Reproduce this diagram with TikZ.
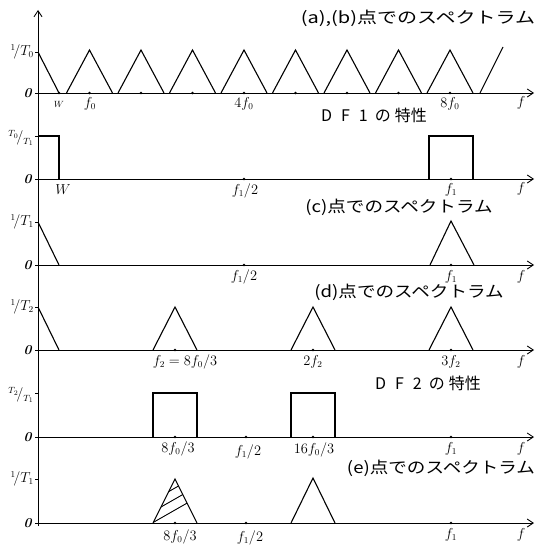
\documentclass[tikz,border=0pt]{standalone}
\usepackage{fontspec}
\newfontfamily\jp{Noto Sans CJK JP}
\usetikzlibrary{arrows.meta}
\newcommand\ttlbox[2][1.16]{\scalebox{#1}[1]{#2}}
\begin{document}
\begin{tikzpicture}[x=1pt,y=-1pt,
  axisline/.style={line width=0.9pt,-{Straight Barb[length=6pt,width=8pt,line width=0.9pt]}},
  curve/.style={line width=1.1pt,line join=miter},
  lab/.style={font=\fontsize{13.5}{13.5}\selectfont},
  ylab/.style={font=\fontsize{13.5}{13.5}\selectfont,anchor=east,inner sep=1pt},
  ttl/.style={font=\jp\fontsize{16}{16}\selectfont},
  dot/.style={circle,fill=black,inner sep=0pt,minimum size=2.6pt}]
\useasboundingbox (0,0) rectangle (556,551);
% vertical axis
\coordinate (ybot) at (38,526);
\coordinate (ytop) at (38,10);
\draw[axisline] (ybot) -- (ytop);
% horizontal axes
\foreach \n/\yy in {a/93,b/179,c/265,d/350,e/437,g/523}{
  \coordinate (\n0) at (38,\yy);
  \coordinate (\n1) at (534,\yy);
  \draw[axisline] (\n0) -- (\n1);
  \draw[line width=0.8pt] (35,\yy) -- (38,\yy);
  \node[lab] (zero\n) at (28,\yy) {\textbf{\textit{0}}};
}
% ---------- panel 1
\draw[line width=0.8pt] (35,52) -- (38,52);
\node[ylab] (ya) at (35,52) {$^{1}\!/T_{0}$};
\draw[curve] (38,52) -- (59,93);
\foreach \k in {1,...,8}{
  \pgfmathsetmacro\c{38+51.5*\k}
  \draw[curve] (\c-23,93) -- (\c,50) -- (\c+23,93);
  \node[dot] at (\c,93) {};
}
\draw[curve] (480,93) -- (503,47);
\node[dot] (tw) at (59,93) {};
\node[lab] (lw) at (59,104) {$\scriptstyle W$};
\node[lab] (lf0) at (90,104) {$f_0$};
\node[lab] (l4f0) at (244,104) {$4f_0$};
\node[lab] (l8f0) at (450,104) {$8f_0$};
\node[lab] (lfa) at (521,103) {$f$};
\node[ttl] (ta) at (418,18) {\ttlbox[1.25]{(a),(b)点でのスペクトラム}};
% ---------- panel 2
\draw[line width=0.8pt] (35,136) -- (38,136);
\node[ylab] (yb) at (35,138) {$^{T_0}\!/_{T_1}$};
\draw[curve] (38,136) -- (59,136) -- (59,179);
\draw[curve] (429,179) -- (429,136) -- (473,136) -- (473,179);
\node[dot] at (244,179) {};
\node[dot] at (451,179) {};
\node[lab] (lwb) at (63,190) {$W$};
\node[lab] (lf1hb) at (245,191) {$f_1/2$};
\node[lab] (lf1b) at (451,190) {$f_1$};
\node[lab] (lfb) at (521,189) {$f$};
\node[ttl] (tb) at (374,115) {D\hspace{9pt}F\hspace{9pt}1\hspace{7pt}の\hspace{4pt}特性};
% ---------- panel 3
\draw[line width=0.8pt] (35,222) -- (38,222);
\node[ylab] (yc) at (35,222) {$^{1}\!/T_{1}$};
\draw[curve] (38,222) -- (59,265);
\draw[curve] (430,265) -- (451,221) -- (474,265);
\node[dot] at (244,265) {};
\node[dot] at (451,265) {};
\node[lab] (lf1hc) at (244,277) {$f_1/2$};
\node[lab] (lf1c) at (451,277) {$f_1$};
\node[lab] (lfc) at (521,277) {$f$};
\node[ttl] (tc) at (399,207) {\ttlbox{(c)点でのスペクトラム}};
% ---------- panel 4
\draw[line width=0.8pt] (35,307) -- (38,307);
\node[ylab] (yd) at (35,307) {$^{1}\!/T_{2}$};
\draw[curve] (38,307) -- (59,350);
\draw[curve] (153,350) -- (175,307) -- (197,350);
\draw[curve] (291,350) -- (313,307) -- (335,350);
\draw[curve] (429,350) -- (451,307) -- (473,350);
\node[dot] at (175,350) {};
\node[dot] at (313,350) {};
\node[dot] at (451,350) {};
\node[lab] (lf2) at (185,362) {$f_2=8f_0/3$};
\node[lab] (l2f2) at (313,362) {$2f_2$};
\node[lab] (l3f2) at (451,362) {$3f_2$};
\node[lab] (lfd) at (521,362) {$f$};
\node[ttl] (td) at (409,292) {\ttlbox{(d)点でのスペクトラム}};
% ---------- panel 5
\draw[line width=0.8pt] (35,393) -- (38,393);
\node[ylab] (ye) at (35,395) {$^{T_2}\!/_{T_1}$};
\draw[curve] (153,437) -- (153,393) -- (197,393) -- (197,437);
\draw[curve] (291,437) -- (291,393) -- (335,393) -- (335,437);
\node[dot] at (175,437) {};
\node[dot] at (246,437) {};
\node[dot] at (313,437) {};
\node[dot] at (451,437) {};
\node[lab] (l83e) at (178,449) {$8f_0/3$};
\node[lab] (lf1he) at (248,452) {$f_1/2$};
\node[lab] (l163e) at (314,450) {$16f_0/3$};
\node[lab] (lf1e) at (451,449) {$f_1$};
\node[lab] (lfe) at (521,449) {$f$};
\node[ttl] (te) at (428,383) {D\hspace{9pt}F\hspace{9pt}2\hspace{7pt}の\hspace{4pt}特性};
% ---------- panel 6
\draw[line width=0.8pt] (35,479) -- (38,479);
\node[ylab] (yg) at (35,479) {$^{1}\!/T_{1}$};
\begin{scope}
  \clip (153,523) -- (175,479) -- (197,523) -- cycle;
  \foreach \s in {0,11,...,66}{
    \draw[line width=0.9pt] (140,530-\s) -- (210,490-\s);
  }
\end{scope}
\draw[curve] (153,523) -- (175,479) -- (197,523);
\draw[curve] (291,523) -- (313,478) -- (335,523);
\node[dot] at (175,523) {};
\node[dot] at (246,523) {};
\node[dot] at (451,523) {};
\node[lab] (l83g) at (180,537) {$8f_0/3$};
\node[lab] (lf1hg) at (250,538) {$f_1/2$};
\node[lab] (lf1g) at (451,535) {$f_1$};
\node[lab] (lfg) at (521,535) {$f$};
\node[ttl] (tg) at (441,468) {\ttlbox{(e)点でのスペクトラム}};
\end{tikzpicture}
\end{document}
